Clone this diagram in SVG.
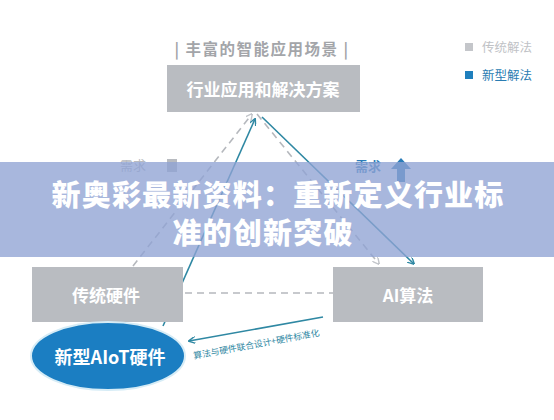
<svg xmlns="http://www.w3.org/2000/svg" width="554" height="420" viewBox="0 0 554 420">
<style>
  text { font-family: "Noto Sans CJK SC", "Liberation Sans", sans-serif; }
  .box { fill: #b9bcc1; }
  .boxt { fill: #ffffff; font-weight: bold; text-anchor: middle; }
  .solid { stroke: #2f88a3; stroke-width: 1.6; fill: none; }
  .dash { stroke: #b5b8bd; stroke-width: 1.6; fill: none; stroke-dasharray: 7 5; }
</style>
<defs>
  <marker id="ah" viewBox="0 0 10 10" refX="9" refY="5" markerWidth="7" markerHeight="7" orient="auto" markerUnits="userSpaceOnUse">
    <path d="M0,0 L10,5 L0,10" fill="none" stroke="#2f88a3" stroke-width="2"/>
  </marker>
  <marker id="ahg" viewBox="0 0 10 10" refX="9" refY="5" markerWidth="7" markerHeight="7" orient="auto" markerUnits="userSpaceOnUse">
    <path d="M0,0 L10,5 L0,10" fill="none" stroke="#c2c5ca" stroke-width="2"/>
  </marker>
</defs>
<rect width="554" height="420" fill="#ffffff"/>

<g id="title">
  <text x="262" y="55" font-size="15.5" font-weight="bold" letter-spacing="1.5" fill="#a3a5a9" text-anchor="middle">|  丰富的智能应用场景  |</text>
</g>

<g id="legend">
  <rect x="465" y="43" width="8" height="8" fill="#c4c6ca"/>
  <text x="482" y="52" font-size="12.5" fill="#c0c2c6">传统解法</text>
  <rect x="465" y="71" width="8" height="8" fill="#1f7fbd"/>
  <text x="482" y="80" font-size="12.5" fill="#2a7cb2">新型解法</text>
</g>

<g id="connectors">
  <line class="dash" x1="133" y1="266" x2="252" y2="114" marker-end="url(#ahg)"/>
  <line class="dash" x1="257" y1="114" x2="379" y2="264" marker-end="url(#ahg)"/>
  <line class="dash" x1="185" y1="293" x2="333" y2="293"/>
  <line class="solid" x1="163" y1="326" x2="255" y2="119" marker-end="url(#ah)"/>
  <line class="solid" x1="262" y1="117" x2="414" y2="264" marker-end="url(#ah)"/>
  <line class="solid" x1="323" y1="317" x2="189" y2="341" marker-end="url(#ah)"/>
  <text x="0" y="0" font-size="8.8" fill="#2f88a3" transform="translate(194,359) rotate(-10.5)">算法与硬件联合设计+硬件标准化</text>
</g>

<g id="node-top">
  <rect class="box" x="167" y="65" width="193" height="47" fill="#b5b9c0"/>
  <text class="boxt" x="263" y="96" font-size="17">行业应用和解决方案</text>
</g>

<g id="node-left">
  <rect class="box" x="32" y="267" width="151" height="55"/>
  <text class="boxt" x="106" y="302" font-size="17">传统硬件</text>
</g>

<g id="node-right">
  <rect class="box" x="333" y="267" width="150" height="55"/>
  <text class="boxt" x="408" y="302" font-size="17">AI算法</text>
</g>

<g id="node-ellipse">
  <ellipse cx="108" cy="356" rx="77" ry="34" fill="#1b7ec2" stroke="#d6ecf6" stroke-width="2"/>
  <text class="boxt" x="110" y="364" font-size="18">新型AIoT硬件</text>
</g>

<g id="demand-left">
  <text x="120" y="170" font-size="13" fill="#b8bbc0">需求</text>
  <rect x="167" y="159" width="10" height="13" fill="#b8bbc0"/>
</g>

<g id="demand-right">
  <text x="355" y="171" font-size="13" font-weight="bold" fill="#2a7cb8">需求</text>
  <path d="M401,158 L411,169 L405,169 L405,182 L397,182 L397,169 L391,169 Z" fill="#2a7cb8"/>
</g>

<g id="banner">
  <rect x="0" y="162" width="554" height="95" fill="#8fa3d3" opacity="0.78"/>
  <text x="278" y="206" font-size="29" font-weight="900" letter-spacing="1.2" fill="#ffffff" text-anchor="middle">新奥彩最新资料：重新定义行业标</text>
  <text x="263" y="244" font-size="29" font-weight="900" letter-spacing="1.2" fill="#ffffff" text-anchor="middle">准的创新突破</text>
</g>
</svg>
